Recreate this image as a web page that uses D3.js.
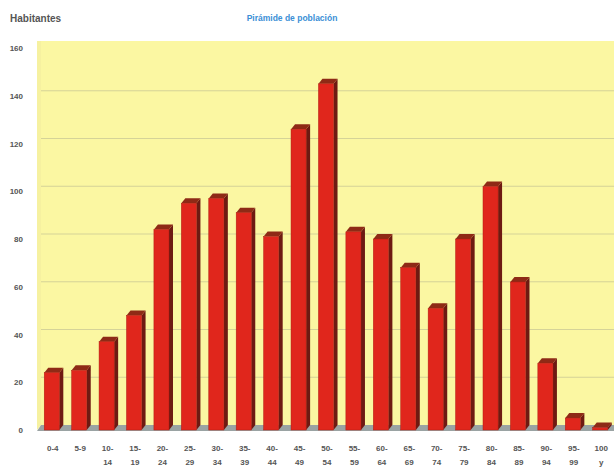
<!DOCTYPE html>
<html>
<head>
<meta charset="utf-8">
<script src="https://cdn.jsdelivr.net/npm/d3@7"></script>
<style>
  html, body { margin: 0; padding: 0; background: #fff; }
  svg { display: block; font-family: "Liberation Sans", "DejaVu Sans", sans-serif; }
</style>
</head>
<body>
<div id="chart"></div>
<script>
// Age groups (label split in two lines) and inhabitants per group
const ageGroups = ["0-4", "5-9", "10-14", "15-19", "20-24", "25-29", "30-34", "35-39", "40-44", "45-49",
  "50-54", "55-59", "60-64", "65-69", "70-74", "75-79", "80-84", "85-89", "90-94", "95-99", "100 y"]
const ageLines = [["0-4"], ["5-9"], ["10-", "14"], ["15-", "19"], ["20-", "24"], ["25-", "29"], ["30-", "34"],
  ["35-", "39"], ["40-", "44"], ["45-", "49"], ["50-", "54"], ["55-", "59"], ["60-", "64"], ["65-", "69"],
  ["70-", "74"], ["75-", "79"], ["80-", "84"], ["85-", "89"], ["90-", "94"], ["95-", "99"], ["100", "y"]]
const habitantes = [24, 25, 37, 48, 84, 95, 97, 91, 81, 126, 145, 83, 80, 68, 51, 80, 102, 62, 28, 5, 1]
const yTicks = [0, 20, 40, 60, 80, 100, 120, 140, 160]

const width = 614
const height = 472
const depth = { dx: 4, dy: -5 }   // 3D offset of the back wall

const svg = d3.select("#chart").append("svg")
  .attr("width", width)
  .attr("height", height)

const x = d3.scaleBand()
  .domain(ageGroups)
  .range([36, 616])
  .paddingInner(0.45)
  .paddingOuter(0.3)

const y = d3.scaleLinear().domain([0, 160]).range([430, 48])

// Back wall
svg.append("rect")
  .attr("x", 37).attr("y", y(160) + depth.dy - 2)
  .attr("width", width - 37)
  .attr("height", y(0) + depth.dy - (y(160) + depth.dy - 2))
  .attr("fill", "#fbf7a2")

// Left wall edge
svg.append("path")
  .attr("d", `M37,${y(160) + depth.dy - 2} L37,${y(0)} L${37 + depth.dx},${y(0) + depth.dy} L${37 + depth.dx},${y(160) + depth.dy - 2}Z`)
  .attr("fill", "#f6f1a0")

// Gridlines on the back wall
svg.append("g")
  .selectAll("line")
  .data(yTicks.filter(d => d > 0 && d < 160))
  .enter()
  .append("line")
  .attr("x1", 37 + depth.dx).attr("x2", width)
  .attr("y1", d => y(d) + depth.dy)
  .attr("y2", d => y(d) + depth.dy)
  .attr("stroke", "#b8b890")
  .attr("stroke-opacity", 0.7)
  .attr("stroke-width", 0.8)

// Floor
svg.append("path")
  .attr("d", `M37,${y(0) + 1} L${width},${y(0) + 1} L${width},${y(0) + depth.dy} L${37 + depth.dx},${y(0) + depth.dy}Z`)
  .attr("fill", "#9aa3a3")

// Y labels
svg.append("g")
  .selectAll("text")
  .data(yTicks)
  .enter()
  .append("text")
  .attr("x", 23)
  .attr("y", d => y(d) + 3)
  .attr("text-anchor", "end")
  .attr("font-size", "8px")
  .attr("font-weight", "bold")
  .attr("fill", "#555")
  .text(d => d)

// Bars: side, top, front
const bars = svg.append("g")
  .selectAll("g.bar")
  .data(ageGroups.map((g, i) => ({ g, v: habitantes[i] })))
  .enter()
  .append("g")
  .attr("class", "bar")

const bw = x.bandwidth()

bars.append("path")
  .attr("d", d => {
    const x1 = x(d.g) + bw, y0 = y(0), yt = y(d.v)
    return `M${x1},${y0} L${x1},${yt} L${x1 + depth.dx},${yt + depth.dy} L${x1 + depth.dx},${y0 + depth.dy}Z`
  })
  .attr("fill", "#6e1a12")

bars.append("path")
  .attr("d", d => {
    const x0 = x(d.g), yt = y(d.v)
    return `M${x0},${yt} L${x0 + depth.dx},${yt + depth.dy} L${x0 + bw + depth.dx},${yt + depth.dy} L${x0 + bw},${yt}Z`
  })
  .attr("fill", "#8e2a16")

bars.append("rect")
  .attr("x", d => x(d.g))
  .attr("y", d => y(d.v))
  .attr("width", bw)
  .attr("height", d => y(0) - y(d.v))
  .attr("fill", "#e0261c")
  .attr("stroke", "#b01c12")
  .attr("stroke-width", 0.5)

// X labels (two lines)
const xl = svg.append("g")
  .selectAll("text")
  .data(ageGroups.map((g, i) => ({ g, lines: ageLines[i] })))
  .enter()
  .append("text")
  .attr("text-anchor", "middle")
  .attr("font-size", "8px")
  .attr("font-weight", "bold")
  .attr("fill", "#555")

xl.selectAll("tspan")
  .data(d => d.lines.map(l => ({ l, cx: x(d.g) + bw / 2 + 1 })))
  .enter()
  .append("tspan")
  .attr("x", d => d.cx)
  .attr("y", (d, i) => 451 + i * 14)
  .text(d => d.l)

// Titles
svg.append("text")
  .attr("x", 10).attr("y", 22)
  .attr("font-size", "10px")
  .attr("font-weight", "bold")
  .attr("fill", "#555")
  .text("Habitantes")

svg.append("text")
  .attr("x", 292).attr("y", 21)
  .attr("text-anchor", "middle")
  .attr("font-size", "8.5px")
  .attr("font-weight", "bold")
  .attr("fill", "#3b8fd6")
  .text("Pirámide de población")
</script>
</body>
</html>
